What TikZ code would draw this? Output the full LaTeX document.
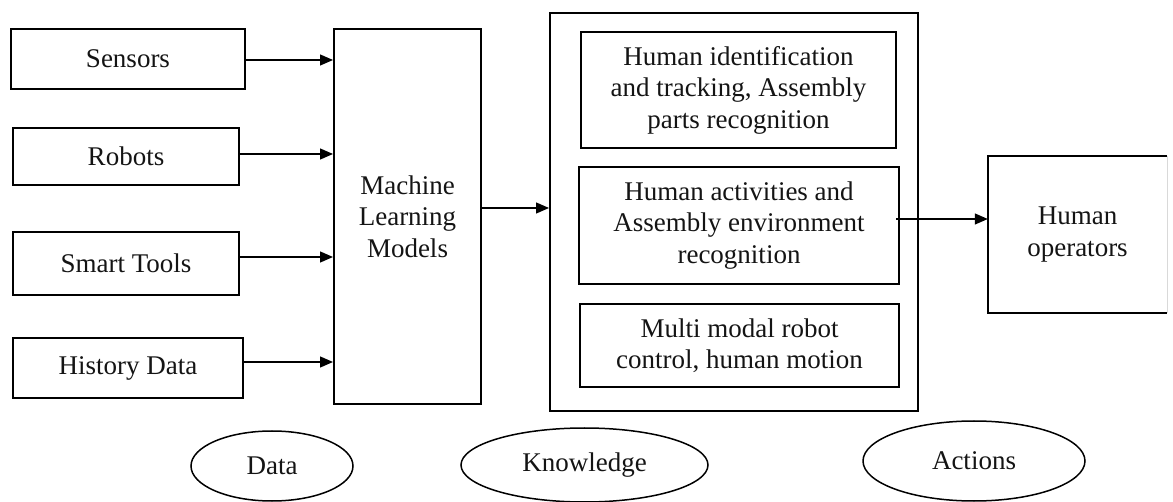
\documentclass[tikz,border=0pt]{standalone}
\usepackage{fontspec}
\setmainfont{Liberation Serif}
\usetikzlibrary{arrows.meta,shapes.geometric}

\tikzset{
  box/.style={draw, line width=2pt, inner sep=0pt, align=center},
  oval/.style={draw, ellipse, line width=1.5pt, inner sep=0pt},
  arr/.style={line width=1.3pt, -{Triangle[length=13pt,width=11pt]}},
}

\begin{document}
\begin{tikzpicture}[x=1pt, y=-1pt, font=\fontsize{27}{31.5}\selectfont, text=black!92]
\useasboundingbox (0,0) rectangle (1173,502);

% data sources
\node[box, minimum width=234pt, minimum height=60pt] (sensors) at (128,59) {Sensors};
\node[box, minimum width=226pt, minimum height=57pt] (robots) at (126,156.5) {Robots};
\node[box, minimum width=226pt, minimum height=63pt] (tools) at (126,263.5) {Smart Tools};
\node[box, minimum width=230pt, minimum height=60pt] (history) at (128,368) {History Data};

% model block
\node[box, minimum width=147pt, minimum height=375pt] (ml) at (407.5,216.5) {Machine\\Learning\\Models};

% knowledge block with its three parts
\node[box, minimum width=368pt, minimum height=398pt] (know) at (734,212) {};
\node[box, minimum width=315pt, minimum height=116pt] (k1) at (738.5,90)
  {Human identification\\and tracking, Assembly\\parts recognition};
\node[box, minimum width=320pt, minimum height=117pt] (k2) at (739,225.5)
  {Human activities and\\Assembly environment\\recognition};
\node[box, minimum width=319pt, minimum height=83pt] (k3) at (739.5,345.5)
  {Multi modal robot\\control, human motion};

% operators block, its right side only faintly printed
\node[inner sep=0pt, align=center, minimum width=179pt, minimum height=157pt] (ops) at (1077.5,234.5)
  {Human\\operators};
\draw[line width=2pt] (ops.north east) -- (ops.north west) -- (ops.south west) -- (ops.south east);
\draw[line width=1pt, black!15] (ops.north east) -- (ops.south east);

% stage labels
\node[oval, minimum width=162pt, minimum height=70pt] (data) at (272,466) {Data};
\node[oval, minimum width=247pt, minimum height=74pt] (knowl) at (584.5,465) {Knowledge};
\node[oval, minimum width=222pt, minimum height=80pt] (actions) at (974,461) {Actions};

% connectors
\draw[arr] ([yshift=-1pt]sensors.east) coordinate (s1) -- (s1 -| ml.west);
\draw[arr] ([yshift=2.5pt]robots.east) coordinate (s2) -- (s2 -| ml.west);
\draw[arr] ([yshift=6.5pt]tools.east) coordinate (s3) -- (s3 -| ml.west);
\draw[arr] ([yshift=6pt]history.east) coordinate (s4) -- (s4 -| ml.west);
\draw[arr] ([yshift=8.5pt]ml.east) coordinate (s5) -- (s5 -| know.west);
\draw[arr] ([xshift=-4pt,yshift=6.5pt]k2.east) coordinate (s6) -- (s6 -| ops.west);
\end{tikzpicture}
\end{document}
